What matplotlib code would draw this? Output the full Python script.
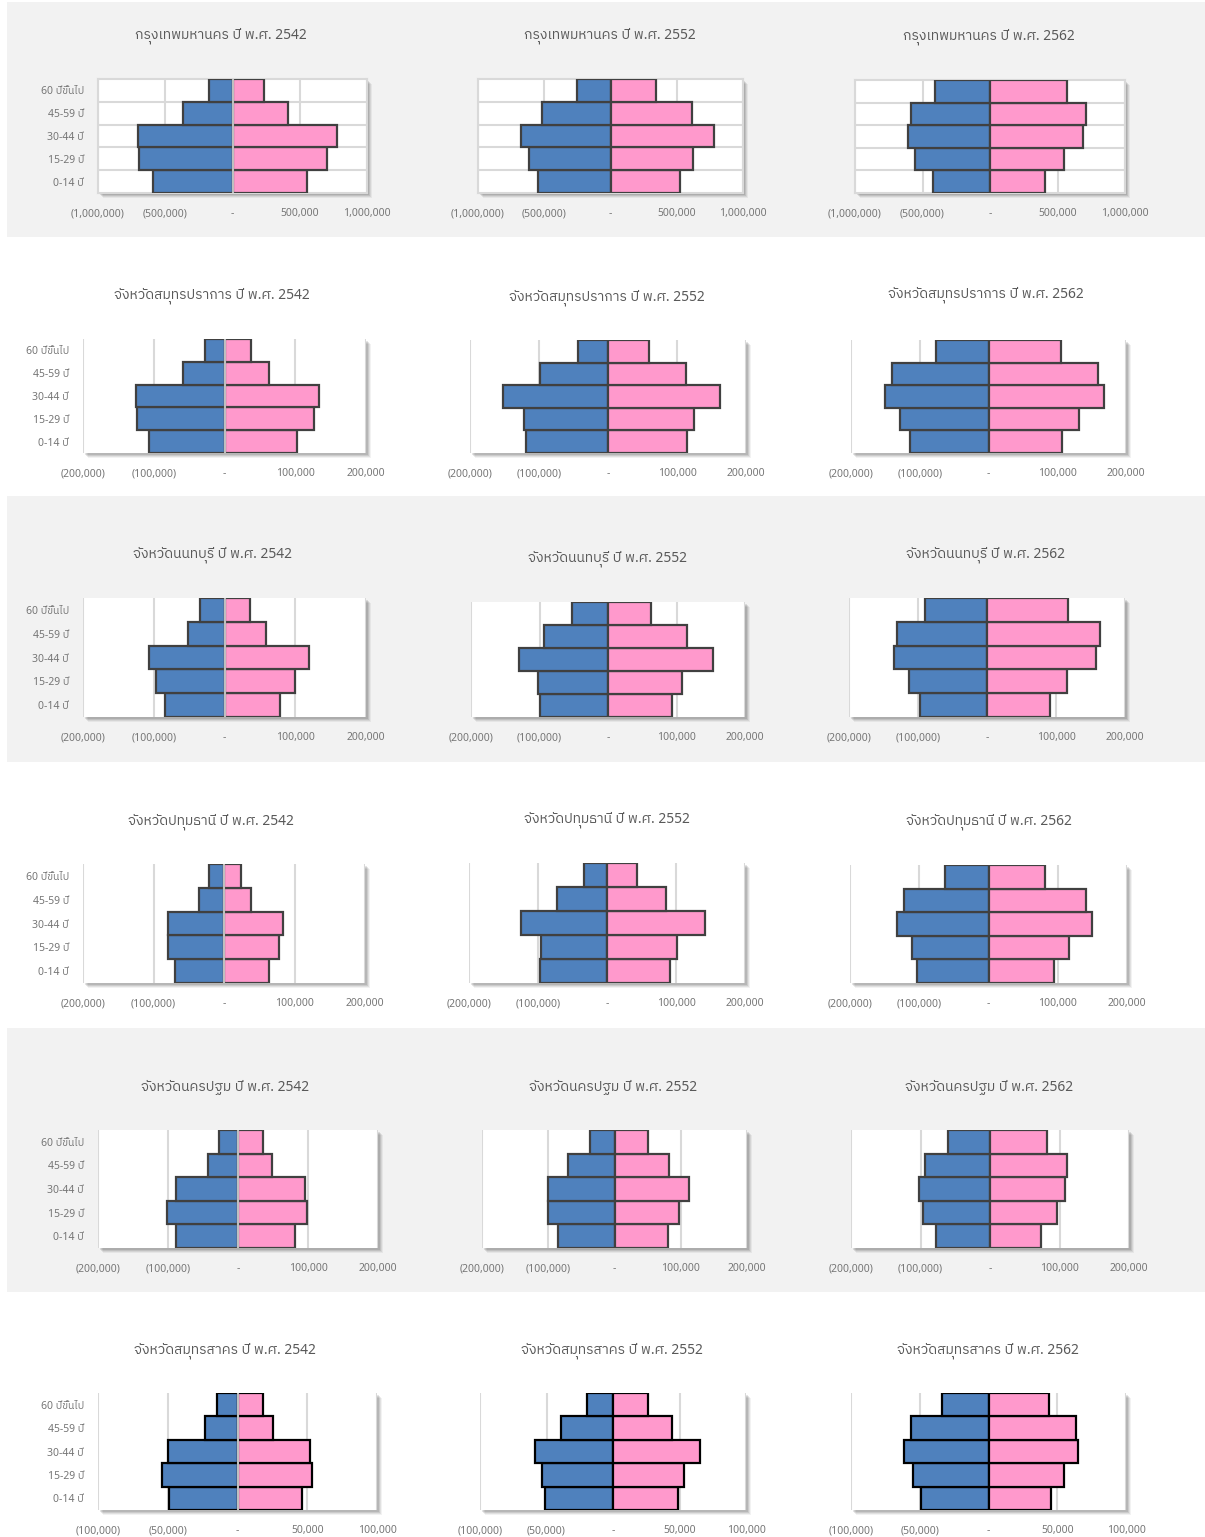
"""Population pyramids of Bangkok and surrounding provinces, 2542/2552/2562."""
import matplotlib
matplotlib.use("Agg")
import matplotlib.pyplot as plt
from matplotlib import font_manager
from matplotlib.ft2font import FT2Font
from matplotlib.patches import Rectangle
from matplotlib.ticker import FuncFormatter

# ---- data (bottom -> top: 0-14, 15-29, 30-44, 45-59, 60+) ----
age_groups = ["0-14 ปี", "15-29 ปี", "30-44 ปี", "45-59 ปี", "60 ปีขึ้นไป"]
years = ["2542", "2552", "2562"]
provinces = ["กรุงเทพมหานคร", "จังหวัดสมุทรปราการ", "จังหวัดนนทบุรี",
             "จังหวัดปทุมธานี", "จังหวัดนครปฐม", "จังหวัดสมุทรสาคร"]
axis_max = [1_000_000, 200_000, 200_000, 200_000, 200_000, 100_000]

bkk_male = [[590000, 693000, 700000, 367000, 175000],
            [544000, 612000, 674000, 519000, 256000],
            [424000, 557000, 607000, 587000, 409000]]
bkk_female = [[557000, 700000, 774000, 412000, 237000],
              [521000, 621000, 779000, 617000, 346000],
              [404000, 550000, 689000, 711000, 570000]]

spk_male = [[107000, 123000, 125000, 58000, 28000],
            [119000, 122000, 152000, 99000, 44000],
            [114000, 129000, 151000, 141000, 77000]]
spk_female = [[103000, 127000, 134000, 63000, 37000],
              [114000, 124000, 163000, 113000, 59000],
              [107000, 132000, 168000, 159000, 105000]]

ntb_male = [[84000, 97000, 107000, 52000, 34000],
            [99000, 102000, 130000, 93000, 52000],
            [97000, 113000, 135000, 131000, 90000]]
ntb_female = [[79000, 100000, 120000, 58000, 36000],
              [94000, 108000, 154000, 115000, 63000],
              [91000, 116000, 158000, 164000, 118000]]

ptt_male = [[69000, 79000, 80000, 36000, 21000],
            [97000, 95000, 125000, 73000, 33000],
            [103000, 111000, 132000, 122000, 63000]]
ptt_female = [[64000, 78000, 84000, 38000, 24000],
              [91000, 102000, 142000, 85000, 44000],
              [94000, 116000, 149000, 141000, 82000]]

npt_male = [[89000, 102000, 88000, 43000, 27000],
            [85000, 100000, 101000, 70000, 37000],
            [77000, 97000, 102000, 93000, 60000]]
npt_female = [[82000, 99000, 95000, 48000, 36000],
              [81000, 98000, 112000, 82000, 51000],
              [73000, 96000, 108000, 111000, 82000]]

skn_male = [[48800, 54300, 50000, 23300, 14800],
            [51200, 53200, 58500, 39000, 19700],
            [49100, 54700, 61200, 56400, 33500]]
skn_female = [[46400, 53600, 51900, 25700, 18300],
              [48800, 53700, 65200, 44500, 26400],
              [45700, 54900, 65300, 63400, 44000]]

male_data = [bkk_male, spk_male, ntb_male, ptt_male, npt_male, skn_male]
female_data = [bkk_female, spk_female, ntb_female, ptt_female, npt_female, skn_female]

# ---- layout (pixels) ----
W, H = 1205, 1537
axes_px = [
    [(98, 367, 79, 193), (478, 743, 79, 193), (855, 1125, 80, 193)],
    [(83, 366, 339, 453), (470, 746, 340, 453), (851, 1126, 340, 453)],
    [(83, 366, 598, 717), (471, 745, 602, 717), (849, 1125, 598, 717)],
    [(83, 365, 864, 983), (469, 745, 863, 983), (850, 1127, 865, 983)],
    [(98, 378, 1130, 1248), (482, 747, 1130, 1248), (851, 1129, 1130, 1248)],
    [(98, 377, 1393, 1510), (480, 746, 1393, 1510), (851, 1126, 1393, 1510)],
]
title_px = [
    [(221, 36), (610, 36), (989, 37)],
    [(212, 296), (607, 298), (986, 295)],
    [(212, 555), (607, 559), (986, 555)],
    [(211, 822), (607, 820), (989, 822)],
    [(225, 1087), (613, 1087), (989, 1087)],
    [(225, 1351), (612, 1351), (988, 1351)],
]
bands = [(2, 237), (496, 762), (1028, 1292)]

MALE = "#4f81bd"
FEMALE = "#ff99cc"
TITLE = "#595959"
TICK = "#767676"


def find_thai_family():
    best = None
    for f in font_manager.fontManager.ttflist:
        try:
            if 0x0E01 not in FT2Font(f.fname).get_charmap():
                continue
        except Exception:
            continue
        if best is None or ("Sans" in f.name and "Sans" not in best):
            best = f.name
    return best


thai = find_thai_family()
families = ["Noto Sans"] + ([thai] if thai else []) + ["DejaVu Sans"]
plt.rcParams["font.family"] = families


def fmt(v, _):
    if abs(v) < 1:
        return "-"
    s = f"{abs(v):,.0f}"
    return f"({s})" if v < 0 else s


fig = plt.figure(figsize=(W / 100, H / 100), dpi=100)
fig.patch.set_facecolor("white")

for y0, y1 in bands:
    fig.add_artist(Rectangle((7 / W, 1 - y1 / H), (W - 7) / W, (y1 - y0) / H,
                             transform=fig.transFigure, fc="#f2f2f2", ec="none", zorder=-3))

pos = list(range(len(age_groups)))
for r, prov in enumerate(provinces):
    lim = axis_max[r]
    edge = "black" if r == 5 else "#404040"
    for c, yr in enumerate(years):
        x0, x1, y0, y1 = axes_px[r][c]
        # soft drop shadow
        for k, a in [(5, 0.05), (4, 0.07), (3, 0.09), (2, 0.1)]:
            fig.add_artist(Rectangle(((x0 + k) / W, 1 - (y1 + k) / H), (x1 - x0) / W, (y1 - y0) / H,
                                     transform=fig.transFigure, fc="black", ec="none",
                                     alpha=a, zorder=-1))
        ax = fig.add_axes([x0 / W, 1 - y1 / H, (x1 - x0) / W, (y1 - y0) / H])
        ax.set_facecolor("white")
        male = male_data[r][c]
        female = female_data[r][c]
        ax.barh(pos, [-v for v in male], height=1.0, color=MALE, edgecolor=edge,
                linewidth=1.6, zorder=3)
        ax.barh(pos, female, height=1.0, color=FEMALE, edgecolor=edge,
                linewidth=1.6, zorder=3)
        ax.set_xlim(-lim, lim)
        ax.set_ylim(-0.5, len(age_groups) - 0.5)
        ax.set_xticks([-lim, -lim / 2, 0, lim / 2, lim])
        ax.xaxis.set_major_formatter(FuncFormatter(fmt))
        ax.grid(axis="x", color="#d9d9d9", linewidth=1.5, zorder=0)
        ax.set_axisbelow(True)
        ax.set_yticks(pos)
        ax.set_yticklabels(age_groups if c == 0 else [])
        ax.tick_params(length=0, labelsize=7.5, labelcolor=TICK)
        ax.tick_params(axis="x", pad=11)
        ax.tick_params(axis="y", pad=10)
        for s in ax.spines.values():
            s.set_visible(False)
        if r == 0:
            ax.set_yticks([0.5, 1.5, 2.5, 3.5], minor=True)
            ax.tick_params(which="minor", length=0)
            ax.grid(axis="y", which="minor", color="#d9d9d9", linewidth=1.5, zorder=0)
            for s in ax.spines.values():
                s.set_visible(True)
                s.set_color("#d9d9d9")
                s.set_linewidth(1.5)
        if c == 0:
            ax.axvline(0, color="#bfbfbf", linewidth=1.5, zorder=4)
        tx, ty = title_px[r][c]
        fig.text(tx / W, 1 - ty / H, f"{prov} ปี พ.ศ. {yr}", ha="center", va="center",
                 fontsize=10, color=TITLE)

fig.savefig("out.png", dpi=100)
plt.close(fig)
